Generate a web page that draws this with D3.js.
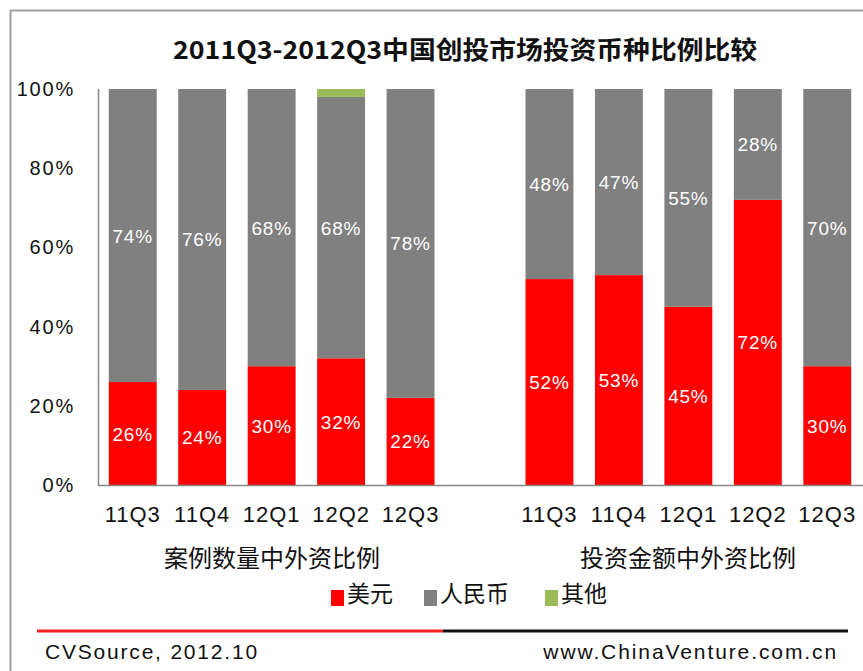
<!DOCTYPE html>
<html>
<head>
<meta charset="utf-8">
<script src="https://cdn.jsdelivr.net/npm/d3@7"></script>
<style>
  body { margin: 0; background: #fff; }
  svg { display: block; }
</style>
</head>
<body>
<svg width="863" height="671"></svg>
<script>
// Data
const quarters = ["11Q3", "11Q4", "12Q1", "12Q2", "12Q3"];
const groups = ["案例数量中外资比例", "投资金额中外资比例"];
const seriesNames = ["美元", "人民币", "其他"];
const seriesColors = ["#ff0000", "#808080", "#9bbb59"];
// case count share (%)
const countUsd = [26, 24, 30, 32, 22];
const countRmb = [74, 76, 70, 66, 78];
const countOther = [0, 0, 0, 2, 0];
const countRmbLabels = ["74%", "76%", "68%", "68%", "78%"];
// investment amount share (%)
const amountUsd = [52, 53, 45, 72, 30];
const amountRmb = [48, 47, 55, 28, 70];
const amountOther = [0, 0, 0, 0, 0];
const yTicks = [0, 20, 40, 60, 80, 100];

const svg = d3.select("svg");
const font = "'Liberation Sans', Arial, sans-serif";
const cjk = "'Noto Sans CJK SC', sans-serif";

// rows: one per bar, with an empty slot between the two groups
const rows = [];
quarters.forEach((q, i) => {
  rows.push({ key: "a" + i, q, usd: countUsd[i], rmb: countRmb[i], other: countOther[i], rmbLabel: countRmbLabels[i] });
});
rows.push({ key: "gap", q: null });
quarters.forEach((q, i) => {
  rows.push({ key: "b" + i, q, usd: amountUsd[i], rmb: amountRmb[i], other: amountOther[i], rmbLabel: amountRmb[i] + "%" });
});

const x = d3.scaleBand()
  .domain(rows.map((d) => d.key))
  .range([98, 862])
  .paddingInner(0.31)
  .paddingOuter(0.155);
const y = d3.scaleLinear().domain([0, 100]).range([485, 89]);

// frame
svg.append("path")
  .attr("d", "M10.5,671V10.5H863")
  .attr("fill", "none")
  .attr("stroke", "#a0a0a0")
  .attr("stroke-width", 2);

// title
svg.append("text")
  .attr("x", 465)
  .attr("y", 59)
  .attr("text-anchor", "middle")
  .attr("font-family", cjk)
  .attr("font-weight", "bold")
  .attr("font-size", 25)
  .attr("fill", "#111")
  .attr("textLength", 584)
  .attr("lengthAdjust", "spacingAndGlyphs")
  .text("2011Q3-2012Q3中国创投市场投资币种比例比较");

// bars
const bars = rows.filter((d) => d.q);
const stack = d3.stack().keys(["usd", "rmb", "other"])(bars);
svg.append("g")
  .selectAll("g")
  .data(stack)
  .join("g")
  .attr("fill", (d, i) => seriesColors[i])
  .selectAll("rect")
  .data((d) => d)
  .join("rect")
  .attr("x", (d) => x(d.data.key))
  .attr("width", x.bandwidth())
  .attr("y", (d) => y(d[1]))
  .attr("height", (d) => y(d[0]) - y(d[1]));

// value labels
const labels = svg.append("g")
  .attr("font-family", font)
  .attr("font-size", 19)
  .attr("letter-spacing", 0.8)
  .attr("fill", "#fff")
  .attr("text-anchor", "middle");
bars.forEach((d) => {
  const cx = x(d.key) + x.bandwidth() / 2;
  labels.append("text")
    .attr("x", cx)
    .attr("y", y(d.usd / 2) + 7)
    .text(d.usd + "%");
  labels.append("text")
    .attr("x", cx)
    .attr("y", y(d.usd + d.rmb / 2) + 7)
    .text(d.rmbLabel);
});

// axes
svg.append("line")
  .attr("x1", 98.5).attr("x2", 98.5)
  .attr("y1", 89).attr("y2", 486)
  .attr("stroke", "#868686").attr("stroke-width", 1.5);
svg.append("line")
  .attr("x1", 98).attr("x2", 863)
  .attr("y1", 485.5).attr("y2", 485.5)
  .attr("stroke", "#868686").attr("stroke-width", 1.5);

svg.append("g")
  .attr("font-family", font)
  .attr("font-size", 20)
  .attr("fill", "#111")
  .attr("text-anchor", "end")
  .selectAll("text")
  .data(yTicks)
  .join("text")
  .attr("x", 75)
  .attr("y", (d) => y(d) + 7)
  .attr("letter-spacing", 1.8)
  .text((d) => d + "%");

svg.append("g")
  .attr("font-family", font)
  .attr("font-size", 22)
  .attr("fill", "#111")
  .attr("text-anchor", "middle")
  .selectAll("text")
  .data(bars)
  .join("text")
  .attr("x", (d) => x(d.key) + x.bandwidth() / 2)
  .attr("y", 522)
  .attr("letter-spacing", 1)
  .text((d) => d.q);

// group titles
svg.append("g")
  .attr("font-family", cjk)
  .attr("font-size", 24)
  .attr("fill", "#111")
  .attr("text-anchor", "middle")
  .selectAll("text")
  .data(groups)
  .join("text")
  .attr("x", (d, i) => i === 0 ? 272 : 688)
  .attr("y", 567)
  .text((d) => d);

// legend
const legendX = [331, 424, 545];
const legend = svg.append("g")
  .selectAll("g")
  .data(seriesNames)
  .join("g")
  .attr("transform", (d, i) => `translate(${legendX[i]},0)`);
legend.append("rect")
  .attr("x", 0).attr("y", 590)
  .attr("width", 13).attr("height", 16)
  .attr("fill", (d, i) => seriesColors[i]);
legend.append("text")
  .attr("x", 16)
  .attr("y", 602)
  .attr("font-family", cjk)
  .attr("font-size", 23)
  .attr("fill", "#111")
  .text((d) => d);

// footer
svg.append("line")
  .attr("x1", 37).attr("x2", 443)
  .attr("y1", 631).attr("y2", 631)
  .attr("stroke", "#ff2020").attr("stroke-width", 3);
svg.append("line")
  .attr("x1", 443).attr("x2", 848)
  .attr("y1", 631).attr("y2", 631)
  .attr("stroke", "#111").attr("stroke-width", 3);
svg.append("text")
  .attr("x", 45).attr("y", 659)
  .attr("font-family", font).attr("font-size", 21).attr("fill", "#111")
  .attr("letter-spacing", 1.8)
  .text("CVSource, 2012.10");
svg.append("text")
  .attr("x", 838).attr("y", 659)
  .attr("text-anchor", "end")
  .attr("font-family", font).attr("font-size", 21).attr("fill", "#111")
  .attr("letter-spacing", 1.9)
  .text("www.ChinaVenture.com.cn");
</script>
</body>
</html>
